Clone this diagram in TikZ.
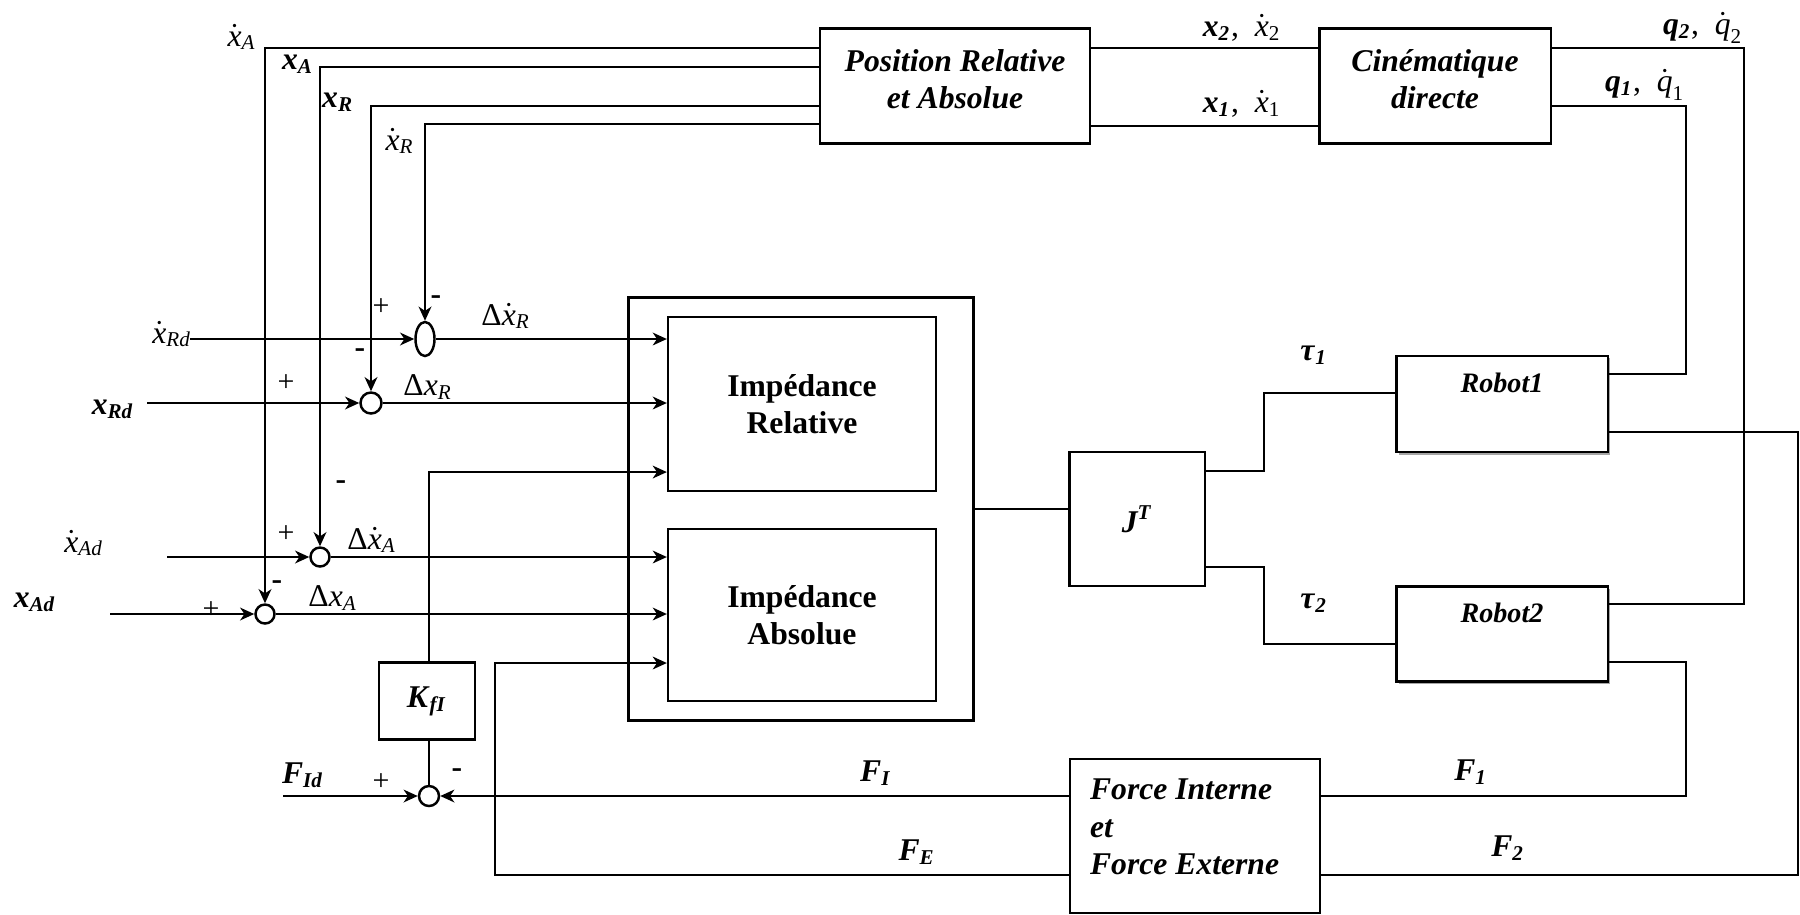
\documentclass[tikz,border=0pt]{standalone}
\usepackage{amsmath}
\usepackage{fontspec}
\setmainfont{Liberation Serif}
\usetikzlibrary{arrows.meta,shapes.geometric,shadows}

% dotted and bold variables
\newcommand{\vdot}[2]{$\dot{\text{\itshape #1}}_{\text{\itshape #2}}$}
\newcommand{\vbf}[2]{\textbf{\textit{#1}}\textsubscript{\textbf{\textit{#2}}}}
\newcommand{\dvdot}[2]{$\text{Δ}\dot{\text{\itshape #1}}_{\text{\itshape #2}}$}
\newcommand{\dvar}[2]{$\text{Δ}\text{\itshape #1}_{\text{\itshape #2}}$}

\begin{document}
\begin{tikzpicture}[x=0.01cm, y=-0.01cm, line width=0.6pt,
  blockbox/.style={draw, line width=0.6pt, inner sep=0pt, align=center,
    font=\fontsize{9}{10.6}\selectfont\bfseries\itshape},
  boxtxt/.style={inner sep=0pt, align=center, font=\fontsize{9}{10.6}\selectfont\bfseries\itshape},
  robotbox/.style={draw, line width=0.6pt, fill=white, minimum width=2.11cm, minimum height=0.96cm,
    drop shadow={shadow xshift=0.025cm, shadow yshift=-0.025cm, fill=gray!70, opacity=1}},
  sumcirc/.style={draw, circle, line width=0.7pt, inner sep=0pt, minimum size=0.2cm},
  sumell/.style={draw, ellipse, line width=0.7pt, inner sep=0pt, minimum width=0.19cm, minimum height=0.34cm},
  sig/.style={line width=0.8pt, -{Stealth[length=4pt, width=3.6pt, inset=1.2pt]}},
  lbl/.style={inner sep=0pt, font=\fontsize{9}{10}\selectfont},
  bflbl/.style={inner sep=0pt, font=\fontsize{8}{10}\selectfont\bfseries\itshape},
  plussgn/.style={inner sep=0pt, font=\fontsize{8.5}{10}\selectfont},
  minussgn/.style={inner sep=0pt, font=\fontsize{9}{10}\selectfont\bfseries}]

\useasboundingbox (0,0) rectangle (1800,914);

% blocks
\node[blockbox, minimum width=2.69cm, minimum height=1.15cm] (pos) at (955,86) {};
\node[boxtxt] (postxt) at (955,79) {Position Relative\\et Absolue};
\node[blockbox, minimum width=2.31cm, minimum height=1.15cm] (cin) at (1435,86) {};
\node[boxtxt] (cintxt) at (1435,79) {Cinématique\\directe};
\node[draw, line width=0.7pt, minimum width=3.45cm, minimum height=4.23cm] (outer) at (801,509) {};
\node[blockbox, font=\fontsize{9}{10.6}\selectfont\bfseries, minimum width=2.68cm, minimum height=1.74cm] (imprel) at (802,404) {Impédance\\Relative};
\node[blockbox, font=\fontsize{9}{10.6}\selectfont\bfseries, minimum width=2.68cm, minimum height=1.72cm] (impabs) at (802,615) {Impédance\\Absolue};
\node[blockbox, minimum width=1.35cm, minimum height=1.34cm] (jt) at (1137,519) {J\textsuperscript{T}};
\node[robotbox] (rob1) at (1502,404) {};
\node[robotbox, minimum height=0.95cm] (rob2) at (1502,634) {};
\node[bflbl] (rob1txt) at (1502,383) {Robot1};
\node[bflbl] (rob2txt) at (1502,613) {Robot2};
\node[blockbox, minimum width=2.50cm, minimum height=1.54cm] (force) at (1195,836) {};
\node[boxtxt, align=left, anchor=west] (forcetxt) at (1089,827) {Force Interne\\et\\Force Externe};
\node[draw, line width=0.6pt, minimum width=0.96cm, minimum height=0.77cm, font=\fontsize{9}{10}\selectfont] (kf) at (427,701) {\vbf{K}{fI}};

% summing junctions
\node[sumell] (s1) at (425,339) {};
\node[sumcirc, minimum size=0.21cm] (s2) at (371,403) {};
\node[sumcirc, minimum size=0.19cm] (s3) at (320,557) {};
\node[sumcirc, minimum size=0.19cm] (s4) at (265,614) {};
\node[sumcirc] (sf) at (429,796) {};

% input ends
\coordinate (in1) at (190,339);
\coordinate (in2) at (147,403);
\coordinate (in3) at (167,557);
\coordinate (in4) at (110,614);
\coordinate (inF) at (283,796);
\coordinate (fecorner) at (495,663);

% references
\draw[sig] (in1) -- (s1.west);
\draw[sig] (in2) -- (s2.west);
\draw[sig] (in3) -- (s3.west);
\draw[sig] (in4) -- (s4.west);
\draw[sig] (inF) -- (sf.west);

% measured positions and velocities
\draw[sig] ([yshift=0.38cm]pos.west) -| (s4.north);
\draw[sig] ([yshift=0.19cm]pos.west) -| (s3.north);
\draw[sig] ([yshift=-0.20cm]pos.west) -| (s2.north);
\draw[sig] ([yshift=-0.38cm]pos.west) -| (s1.north);

% errors into the impedances
\draw[sig] (s1.east) -- (s1.east -| imprel.west);
\draw[sig] (s2.east) -- (s2.east -| imprel.west);
\draw[sig] (s3.east) -- (s3.east -| impabs.west);
\draw[sig] (s4.east) -- (s4.east -| impabs.west);

% force loops
\draw (sf.north) -- (sf.north |- kf.south);
\draw[sig] (sf.north |- kf.north) |- ([yshift=-0.68cm]imprel.west);
\draw[sig] (force.west |- sf) -- (sf.east);
\draw[sig] ([yshift=-0.39cm]force.west) -| (fecorner) -- (fecorner -| impabs.west);

% forward path
\draw (outer.east) -- (outer.east -| jt.west);
\draw ([yshift=0.48cm]jt.east) -- ++(0.58cm,0) |- ([yshift=0.11cm]rob1.west);
\draw ([yshift=-0.48cm]jt.east) -- ++(0.58cm,0) |- ([yshift=-0.10cm]rob2.west);

% kinematics
\draw ([yshift=0.38cm]pos.east) -- ([yshift=0.38cm]cin.west);
\draw ([yshift=-0.40cm]pos.east) -- ([yshift=-0.40cm]cin.west);
\draw ([yshift=0.38cm]cin.east) -- ++(1.92cm,0) |- ([yshift=0.30cm]rob2.east);
\draw ([yshift=-0.20cm]cin.east) -- ++(1.34cm,0) |- ([yshift=0.30cm]rob1.east);
\draw ([yshift=-0.28cm]rob1.east) -- ++(1.89cm,0) |- ([yshift=-0.39cm]force.east);
\draw ([yshift=-0.28cm]rob2.east) -- ++(0.77cm,0) |- ([yshift=0.40cm]force.east);

% labels
\node[lbl] (lxAdot) at (242,37) {\vdot{x}{A}};
\node[lbl] (lxA) at (298,64) {\vbf{x}{A}};
\node[lbl] (lxR) at (338,102) {\vbf{x}{R}};
\node[lbl] (lxRdot) at (400,141) {\vdot{x}{R}};
\node[lbl] (lxRddot) at (172,334) {\vdot{x}{Rd}};
\node[lbl] (lxRd) at (113,409) {\vbf{x}{Rd}};
\node[lbl] (lxAddot) at (84,543) {\vdot{x}{Ad}};
\node[lbl] (lxAd) at (35,602) {\vbf{x}{Ad}};
\node[lbl] (lFId) at (303,775) {\vbf{F}{Id}};
\node[lbl] (ldxRdot) at (506,316) {\dvdot{x}{R}};
\node[lbl] (ldxR) at (428,387) {\dvar{x}{R}};
\node[lbl] (ldxAdot) at (372,540) {\dvdot{x}{A}};
\node[lbl] (ldxA) at (333,598) {\dvar{x}{A}};
\node[lbl] (lxtwo) at (1242,28) {\vbf{x}{2},\ \ $\dot{\text{\itshape x}}_{\text{2}}$};
\node[lbl] (lxone) at (1242,104) {\vbf{x}{1},\ \ $\dot{\text{\itshape x}}_{\text{1}}$};
\node[lbl] (lqtwo) at (1703,28) {\vbf{q}{2},\ \ $\dot{\text{\itshape q}}_{\text{2}}$};
\node[lbl] (lqone) at (1645,85) {\vbf{q}{1},\ \ $\dot{\text{\itshape q}}_{\text{1}}$};
\node[lbl] (ltauone) at (1314,355) {\vbf{τ}{1}};
\node[lbl] (ltautwo) at (1314,603) {\vbf{τ}{2}};
\node[lbl] (lFI) at (876,773) {\vbf{F}{I}};
\node[lbl] (lFE) at (917,852) {\vbf{F}{E}};
\node[lbl] (lFone) at (1471,772) {\vbf{F}{1}};
\node[lbl] (lFtwo) at (1508,848) {\vbf{F}{2}};

% signs
\foreach \sx/\sy [count=\i] in {381/307, 286/383, 286/534, 211/610, 381/782}
  \node[plussgn] (plus\i) at (\sx,\sy) {+};
\foreach \sx/\sy [count=\i] in {436/300, 360/353, 341/485, 277/585, 457/773}
  \node[minussgn] (minus\i) at (\sx,\sy) {-};
\end{tikzpicture}
\end{document}
